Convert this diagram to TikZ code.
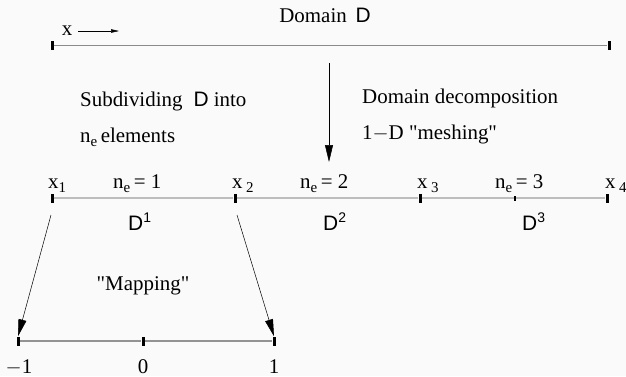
\documentclass[tikz,border=0pt]{standalone}
\usepackage{fontspec}
\setmainfont{Liberation Serif}
\newfontfamily\dfont{Liberation Sans}
\newfontfamily\qfont{Liberation Serif}[Ligatures=TeXOff]
\usetikzlibrary{arrows.meta,positioning}
\definecolor{bggray}{HTML}{FAFAFA}
\definecolor{linegray}{HTML}{8A8A8A}
\definecolor{meshgray}{HTML}{BDBDBD}
\definecolor{refgray}{HTML}{939393}
\newcommand{\dom}{{\dfont D}}
\newcommand{\lsub}[1]{\raisebox{-0.5ex}{\fontsize{15}{15}\selectfont #1}}
\newcommand{\dsup}[1]{{\dfont D\raisebox{0.7ex}{\fontsize{14}{14}\selectfont #1}}}
\newcommand{\qt}{{\qfont"}}

\begin{document}
\begin{tikzpicture}[x=1bp, y=-1bp,
    tickmark/.style={fill=black, inner sep=0pt, minimum width=3bp, minimum height=9bp},
    smalltick/.style={fill=black, inner sep=0pt, minimum width=2bp, minimum height=5bp},
    txt/.style={font=\fontsize{21}{25}\selectfont, inner sep=0pt},
    arr/.style={-{Triangle[length=17bp, width=8bp]}, line width=0.5bp},
    smallarr/.style={-{Triangle[length=8bp, width=3.5bp]}, line width=0.5bp}
  ]
  \fill[bggray] (0,0) rectangle (626,376);
  \useasboundingbox (0,0) rectangle (626,376);

  % --- domain D ---
  \node[txt, anchor=base] (title) at (325,22) {Domain\, \dom};
  \node[tickmark] (da) at (52,45) {};
  \node[tickmark] (db) at (609,45) {};
  \draw[linegray, line width=1bp] (da) -- (db);
  \node[txt] (xdir) at (67,31) {x};
  \coordinate (xend) at (119,31);
  \draw[smallarr] (xdir.east) ++(6,0) -- (xend);

  % --- decomposition ---
  \coordinate (dtop) at (329,63);
  \coordinate (dbot) at (329,162);
  \draw[arr] (dtop) -- (dbot);
  \node[txt, anchor=base west] (sub) at (80,106) {Subdividing \;\dom\ into};
  \node[txt, anchor=base west] (nel) at (80,142) {n\lsub{e}\,elements};
  \node[txt, anchor=base west] (dec) at (362,103) {Domain decomposition};
  \node[txt, anchor=base west] (mesh) at (362,139) {1$-$D \qt meshing\qt};

  % --- mesh ---
  \node[tickmark] (t1) at (52,198) {};
  \node[tickmark] (t2) at (235,198) {};
  \node[tickmark] (t3) at (420,198) {};
  \node[smalltick] (tm) at (515,198) {};
  \node[tickmark] (t4) at (607,198) {};
  \draw[meshgray, line width=1.5bp] (t1) -- (t2) -- (t3) -- (tm) -- (t4);

  \node[txt, anchor=base west] (x1) at (48,188) {x\lsub{1}};
  \node[txt, anchor=base west] (x2) at (232,188) {x\,\lsub{2}};
  \node[txt, anchor=base west] (x3) at (417,188) {x\,\lsub{3}};
  \node[txt, anchor=base west] (x4) at (605,188) {x\,\lsub{4}};
  \node[txt, anchor=base west] (n1) at (113,188) {n\lsub{e}\,= 1};
  \node[txt, anchor=base west] (n2) at (300,188) {n\lsub{e}\,= 2};
  \node[txt, anchor=base west] (n3) at (495,188) {n\lsub{e}\,= 3};
  \node[txt, anchor=base west] (d1) at (128,230) {\dsup{1}};
  \node[txt, anchor=base west] (d2) at (323,230) {\dsup{2}};
  \node[txt, anchor=base west] (d3) at (522,230) {\dsup{3}};

  % --- mapping ---
  \coordinate (m1) at (51,215);
  \coordinate (m2) at (237,215);
  \node[txt, anchor=base] (map) at (143,290) {\qt Mapping\qt};

  % --- reference element ---
  \node[tickmark] (r1) at (18,341) {};
  \node[tickmark] (r0) at (143,341) {};
  \node[tickmark] (r2) at (274,341) {};
  \draw[refgray, line width=1.5bp] (r1) -- (r0) -- (r2);
  \draw[arr] (m1) -- (r1.north);
  \draw[arr] (m2) -- (r2.north);
  \node[txt, anchor=base] (lm1) at (19,373) {$-$1};
  \node[txt, anchor=base] (l0) at (143,373) {0};
  \node[txt, anchor=base] (l1) at (274,373) {1};
\end{tikzpicture}
\end{document}
